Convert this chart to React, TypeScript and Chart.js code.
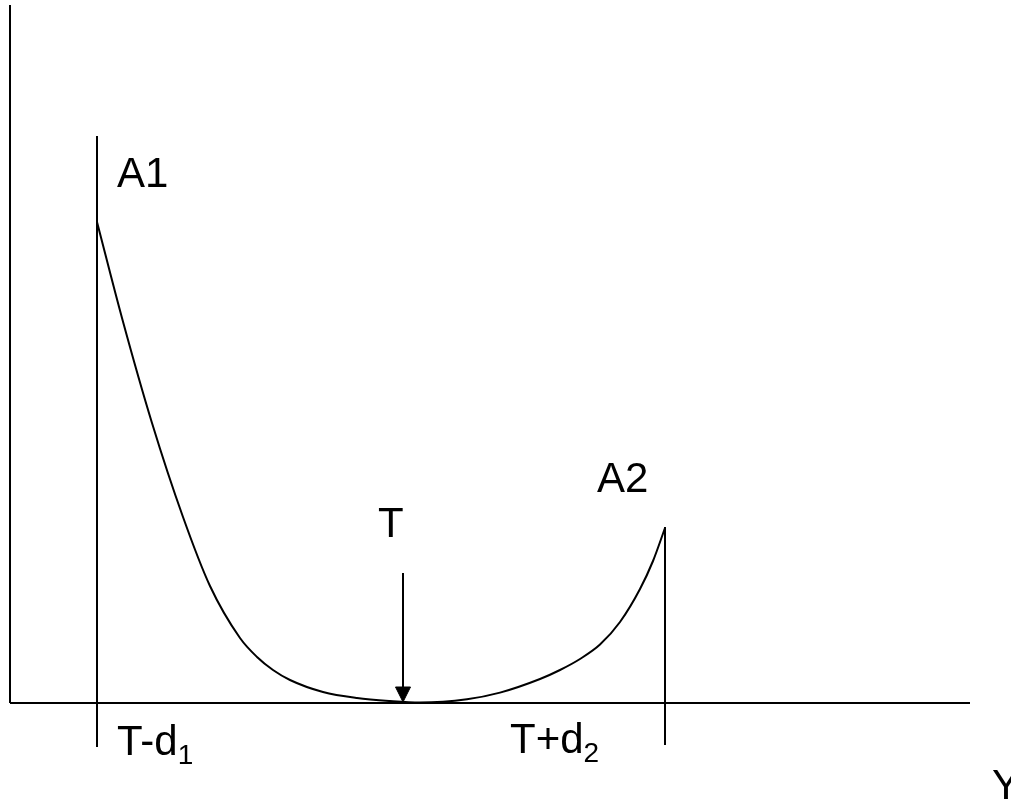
import React, { useEffect, useRef } from "react";
import { Chart, registerables } from "chart.js";

Chart.register(...registerables);

// Curve (loss function) sampled points: x position, height above the axis
const curveX = [97, 122, 152, 183, 210, 240, 257, 273, 290, 323, 357, 390, 420, 467, 500, 540, 560, 580, 600, 620, 640, 653, 665];
const curveY = [481, 385, 280, 186, 117, 65, 46, 33, 23, 11, 5, 2, 0.5, 3.8, 10.4, 24, 33, 44, 58.4, 81, 114, 142, 175];

// Axis and guide segments [x1, y1, x2, y2]
const yAxisSeg = [10, 0, 10, 698];
const xAxisSeg = [10, 0, 970, 0];
const leftLimitSeg = [97, 567, 97, -44];
const rightLimitSeg = [665, 176, 665, -42];
const arrowSeg = [403, 130, 403, 12];
const arrowHeadX = [395.5, 410.5, 403, 395.5];
const arrowHeadY = [16, 16, 1, 16];

// Text labels
const labelText = ["A1", "A2", "T", "Y"];
const labelX = [117, 597, 378, 992];
const labelY = [516, 211, 166, -96];

// Labels with subscripts
const subMain = ["T-d", "T+d"];
const subIdx = ["1", "2"];
const subX = [117, 510];
const subY = [-52, -50];

const seg = (s: number[]) => [
  { x: s[0], y: s[1] },
  { x: s[2], y: s[3] },
];

const lineDs = (data: { x: number; y: number }[], extra: any = {}) => ({
  data,
  borderColor: "#000",
  backgroundColor: "#000",
  borderWidth: 2,
  pointRadius: 0,
  tension: 0,
  ...extra,
});

const textPlugin = {
  id: "textLabels",
  afterDraw(chart: any) {
    const { ctx, scales } = chart;
    const xs = scales.x;
    const ys = scales.y;
    ctx.save();
    ctx.fillStyle = "#000";
    ctx.textBaseline = "alphabetic";
    ctx.textAlign = "left";
    ctx.font = '42px "Liberation Sans", Arial, sans-serif';
    labelText.forEach((t, i) => {
      ctx.fillText(t, xs.getPixelForValue(labelX[i]), ys.getPixelForValue(labelY[i]));
    });
    subMain.forEach((t, i) => {
      ctx.font = '42px "Liberation Sans", Arial, sans-serif';
      const px = xs.getPixelForValue(subX[i]);
      const py = ys.getPixelForValue(subY[i]);
      ctx.fillText(t, px, py);
      const w = ctx.measureText(t).width;
      ctx.font = '28px "Liberation Sans", Arial, sans-serif';
      ctx.fillText(subIdx[i], px + w, py + 9);
    });
    ctx.restore();
  },
};

export default function App() {
  const ref = useRef<HTMLCanvasElement>(null);
  useEffect(() => {
    if (!ref.current) return;
    const chart = new Chart(ref.current, {
      type: "line",
      data: {
        datasets: [
          lineDs(seg(yAxisSeg)),
          lineDs(seg(xAxisSeg)),
          lineDs(seg(leftLimitSeg)),
          lineDs(seg(rightLimitSeg)),
          lineDs(seg(arrowSeg)),
          lineDs(
            arrowHeadX.map((x, i) => ({ x, y: arrowHeadY[i] })),
            { fill: "shape", borderWidth: 1 }
          ),
          lineDs(
            curveX.map((x, i) => ({ x, y: curveY[i] })),
            { cubicInterpolationMode: "monotone" }
          ),
        ],
      },
      options: {
        animation: false,
        responsive: false,
        events: [],
        layout: { padding: 0 },
        plugins: {
          legend: { display: false },
          tooltip: { enabled: false },
          title: { display: false },
        },
        scales: {
          x: { type: "linear", min: 0, max: 1011, display: false },
          y: { type: "linear", min: -100, max: 703, display: false },
        },
        elements: { line: { borderCapStyle: "butt" } },
      },
      plugins: [textPlugin],
    } as any);
    return () => chart.destroy();
  }, []);
  return (
    <div style={{ position: "absolute", left: 0, top: 0, width: 1011, height: 803, background: "#fff" }}>
      <canvas ref={ref} width={1011} height={803} style={{ width: 1011, height: 803, display: "block" }} />
    </div>
  );
}
